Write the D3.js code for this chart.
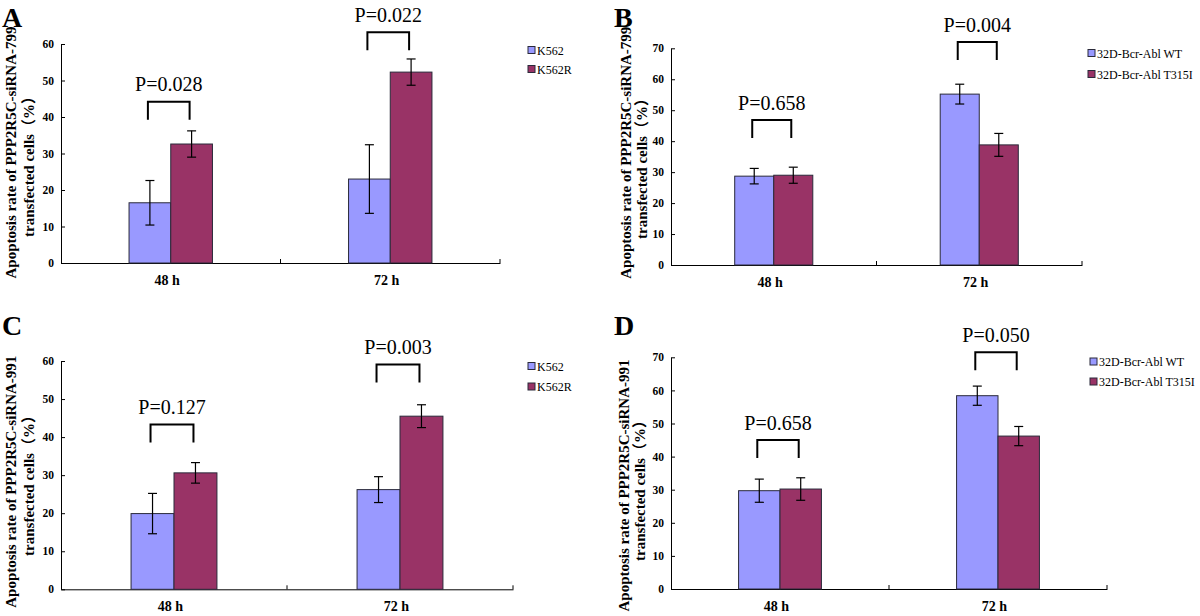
<!DOCTYPE html>
<html>
<head>
<meta charset="utf-8">
<script src="https://cdn.jsdelivr.net/npm/d3@7"></script>
<style>
  html, body { margin: 0; padding: 0; background: #ffffff; }
  svg { display: block; }
  text { font-family: "Liberation Serif", "Times New Roman", "Noto Sans CJK SC", serif; fill: #000; }
</style>
</head>
<body>
<svg id="chart" width="1200" height="616"></svg>
<script>
// ---------------- DATA ----------------
const categories = ["48 h", "72 h"];
const seriesK562 = ["K562", "K562R"];
const series32D = ["32D-Bcr-Abl WT", "32D-Bcr-Abl T315I"];

const yTicks60 = [0, 10, 20, 30, 40, 50, 60];
const yTicks70 = [0, 10, 20, 30, 40, 50, 60, 70];

// Panel A : siRNA-799, K562 vs K562R  (rows = series, columns = categories)
const meansA  = [[16.5, 23.0], [32.6, 52.3]];
const errorsA = [[6.1, 9.4],   [3.6, 3.6]];
const pTextA  = ["P=0.028", "P=0.022"];
const bracketA = [44.2, 63.2];

// Panel B : siRNA-799, 32D WT vs T315I
const meansB  = [[28.7, 55.2], [29.0, 38.8]];
const errorsB = [[2.5, 3.2],   [2.6, 3.7]];
const pTextB  = ["P=0.658", "P=0.004"];
const bracketB = [46.8, 72.0];

// Panel C : siRNA-991, K562 vs K562R
const meansC  = [[19.9, 26.2], [30.6, 45.5]];
const errorsC = [[5.3, 3.4],   [2.7, 3.0]];
const pTextC  = ["P=0.127", "P=0.003"];
const bracketC = [43.3, 59.1];

// Panel D : siRNA-991, 32D WT vs T315I
const meansD  = [[29.7, 58.4], [30.2, 46.2]];
const errorsD = [[3.5, 2.9],   [3.4, 2.9]];
const pTextD  = ["P=0.658", "P=0.050"];
const bracketD = [45.0, 71.5];

const titleLine1_799 = "Apoptosis rate of PPP2R5C-siRNA-799";
const titleLine1_991 = "Apoptosis rate of PPP2R5C-siRNA-991";
const titleLine2 = "transfected cells（%）";

const colors = ["#9999FF", "#993366"];

// ---------------- LAYOUT ----------------
const panels = [
  { letter: "A", lx: 2, ly: 27, means: meansA, errors: errorsA, pText: pTextA, bracket: bracketA,
    series: seriesK562, ticks: yTicks60, yMax: 60, x0: 61, x1: 500, yBase: 263, yTop: 44,
    t1: titleLine1_799, t1x: 16, t1y: 152.5, t2x: 33.5, t2y: 163,
    legX: 528, legY: [50, 69] },
  { letter: "B", lx: 614, ly: 27, means: meansB, errors: errorsB, pText: pTextB, bracket: bracketB,
    series: series32D, ticks: yTicks70, yMax: 70, x0: 671, x1: 1082, yBase: 265, yTop: 48.3,
    t1: titleLine1_799, t1x: 630.5, t1y: 152.7, t2x: 647, t2y: 165,
    legX: 1088, legY: [53, 74] },
  { letter: "C", lx: 2, ly: 335, means: meansC, errors: errorsC, pText: pTextC, bracket: bracketC,
    series: seriesK562, ticks: yTicks60, yMax: 60, x0: 61, x1: 513, yBase: 589.3, yTop: 361,
    t1: titleLine1_991, t1x: 16, t1y: 481.7, t2x: 34, t2y: 482,
    legX: 528, legY: [366, 386.5] },
  { letter: "D", lx: 614, ly: 335, means: meansD, errors: errorsD, pText: pTextD, bracket: bracketD,
    series: series32D, ticks: yTicks70, yMax: 70, x0: 671, x1: 1107, yBase: 589, yTop: 357.3,
    t1: titleLine1_991, t1x: 629, t1y: 485.5, t2x: 645, t2y: 487,
    legX: 1090, legY: [361.5, 381.5] }
];

const svg = d3.select("#chart");

panels.forEach(p => {
  const g = svg.append("g");

  const x = d3.scaleBand().domain(categories).range([p.x0, p.x1]).padding(0);
  const bw = x.bandwidth();
  const xs = d3.scaleBand().domain(p.series).range([-0.19 * bw, 0.19 * bw]).padding(0);
  const y = d3.scaleLinear().domain([0, p.yMax]).range([p.yBase, p.yTop]);

  // panel letter
  g.append("text").attr("x", p.lx).attr("y", p.ly)
    .attr("font-size", 28).attr("font-weight", "bold").text(p.letter);

  // y-axis
  const yAxis = d3.axisLeft(y).tickValues(p.ticks).tickSize(-4).tickSizeOuter(0).tickPadding(7)
    .tickFormat(d3.format("d"));
  const ya = g.append("g").attr("transform", `translate(${p.x0},0)`).call(yAxis);
  ya.select(".domain").attr("stroke", "#000").attr("stroke-width", 1);
  ya.selectAll(".tick line").attr("stroke", "#000");
  ya.selectAll(".tick text").attr("font-size", 11.5).attr("font-weight", "bold")
    .attr("font-family", "Liberation Serif, serif");

  // x-axis
  const xAxis = d3.axisBottom(x).tickSize(0).tickSizeOuter(0);
  const xa = g.append("g").attr("transform", `translate(0,${p.yBase})`).call(xAxis);
  xa.select(".domain").attr("stroke", "#000").attr("stroke-width", 1);
  xa.selectAll(".tick text").attr("y", 22).attr("dy", 0).attr("dx", -3.5)
    .attr("font-size", 14).attr("font-weight", "bold")
    .attr("font-family", "Liberation Serif, serif");
  // category boundary ticks (inside, upward)
  g.selectAll(".xb").data(categories).enter().append("line")
    .attr("x1", d => x(d) + bw).attr("x2", d => x(d) + bw)
    .attr("y1", p.yBase).attr("y2", p.yBase - 4)
    .attr("stroke", "#000").attr("stroke-width", 1);

  // bars
  p.series.forEach((s, si) => {
    categories.forEach((c, ci) => {
      const v = p.means[si][ci];
      const e = p.errors[si][ci];
      const bx = x(c) + bw / 2 + xs(s);
      const w = xs.bandwidth();
      g.append("rect")
        .attr("x", bx).attr("y", y(v))
        .attr("width", w).attr("height", y(0) - y(v))
        .attr("fill", colors[si]).attr("stroke", "#2a2a3a").attr("stroke-width", 1);
      const cx = bx + w / 2;
      g.append("line").attr("x1", cx).attr("x2", cx)
        .attr("y1", y(v + e)).attr("y2", y(v - e))
        .attr("stroke", "#000").attr("stroke-width", 1.2);
      [v + e, v - e].forEach(t => {
        g.append("line").attr("x1", cx - 4.5).attr("x2", cx + 4.5)
          .attr("y1", y(t)).attr("y2", y(t))
          .attr("stroke", "#000").attr("stroke-width", 1.2);
      });
    });
  });

  // brackets + P values
  categories.forEach((c, ci) => {
    const bxL = x(c) + bw / 2 + xs(p.series[0]) + xs.bandwidth() / 2 - 2;
    const bxR = x(c) + bw / 2 + xs(p.series[1]) + xs.bandwidth() / 2 - 2;
    const top = y(p.bracket[ci]);
    g.append("path")
      .attr("d", `M${bxL},${top + 18}V${top}H${bxR}V${top + 18}`)
      .attr("fill", "none").attr("stroke", "#000").attr("stroke-width", 2);
    g.append("text").attr("x", (bxL + bxR) / 2).attr("y", top - 10.5)
      .attr("text-anchor", "middle").attr("font-size", 20).text(p.pText[ci]);
  });

  // y-axis title
  g.append("text").attr("transform", `translate(${p.t1x},${p.t1y}) rotate(-90)`)
    .attr("text-anchor", "middle").attr("font-size", 15).attr("font-weight", "bold").text(p.t1);
  g.append("text").attr("transform", `translate(${p.t2x},${p.t2y}) rotate(-90)`)
    .attr("text-anchor", "middle").attr("font-size", 15).attr("font-weight", "bold").text(titleLine2);

  // legend
  p.series.forEach((s, si) => {
    const ly = p.legY[si];
    g.append("rect").attr("x", p.legX).attr("y", ly - 3.5).attr("width", 7).attr("height", 7)
      .attr("fill", colors[si]).attr("stroke", "#2a2a3a").attr("stroke-width", 1);
    g.append("text").attr("x", p.legX + 9).attr("y", ly + 4.5)
      .attr("font-size", 12).text(s);
  });
});
</script>
</body>
</html>
